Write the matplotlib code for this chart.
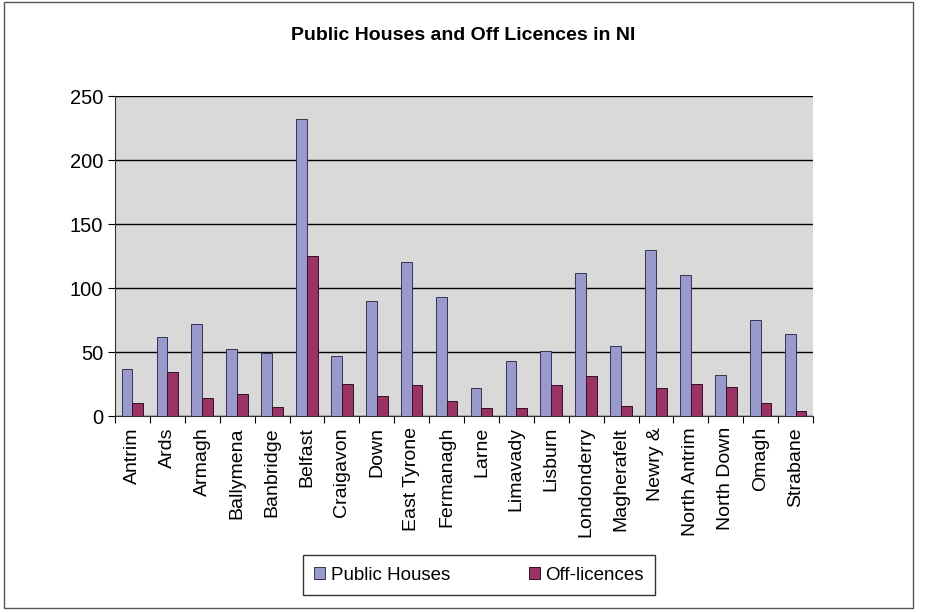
import numpy as np
import matplotlib.pyplot as plt
from matplotlib.patches import Rectangle

plt.rcParams['font.family'] = ['Liberation Sans', 'DejaVu Sans']

districts = ['Antrim', 'Ards', 'Armagh', 'Ballymena', 'Banbridge', 'Belfast',
             'Craigavon', 'Down', 'East Tyrone', 'Fermanagh', 'Larne', 'Limavady',
             'Lisburn', 'Londonderry', 'Magherafelt', 'Newry &', 'North Antrim',
             'North Down', 'Omagh', 'Strabane']
public_houses = [37, 62, 72, 52, 49, 232, 47, 90, 120, 93, 22, 43, 51, 112, 55, 130, 110, 32, 75, 64]
off_licences = [10, 34, 14, 17, 7, 125, 25, 16, 24, 12, 6, 6, 24, 31, 8, 22, 25, 23, 10, 4]

fig = plt.figure(figsize=(9.25, 6.12), dpi=100)
fig.patches.append(Rectangle((0.004, 0.006), 0.983, 0.99, transform=fig.transFigure,
                             fill=False, edgecolor='#555555', linewidth=1))

ax = fig.add_axes([115 / 925, 1 - 416 / 612, 698 / 925, 320 / 612])
ax.set_facecolor('#d9d9d9')

x = np.arange(len(districts))
w = 0.31
ax.bar(x - w / 2, public_houses, w, color='#9999cc', edgecolor='#333355', linewidth=0.7,
       label='Public Houses', zorder=3)
ax.bar(x + w / 2, off_licences, w, color='#993366', edgecolor='#331122', linewidth=0.7,
       label='Off-licences', zorder=3)

ax.set_xlim(-0.5, len(districts) - 0.5)
ax.set_ylim(0, 250)
ax.set_yticks(range(0, 251, 50))
ax.yaxis.grid(True, color='black', linewidth=1)
ax.set_axisbelow(True)
ax.set_xticks(np.arange(len(districts) + 1) - 0.5, minor=False)
ax.set_xticks(x, minor=True)
ax.set_xticklabels([''] * (len(districts) + 1))
ax.set_xticklabels(districts, minor=True, rotation=90, fontsize=14)
ax.tick_params(axis='x', which='minor', length=0, pad=8)
ax.tick_params(axis='x', which='major', length=5, direction='out')
ax.tick_params(axis='y', labelsize=14.5, length=5)
for s in ['top', 'right']:
    ax.spines[s].set_visible(False)
ax.spines['left'].set_color('#333333')
ax.spines['bottom'].set_color('#333333')

fig.text(463 / 925, 1 - 35 / 612, 'Public Houses and Off Licences in NI', ha='center', va='center',
         fontsize=14, fontweight='bold')

leg = fig.legend(loc='center', bbox_to_anchor=(479 / 925, 1 - 575 / 612), ncol=2,
                 frameon=True, fancybox=False, edgecolor='black', fontsize=13.5,
                 handlelength=0.6, handleheight=0.6, columnspacing=4.2, borderpad=0.6,
                 handletextpad=0.3, borderaxespad=0)
leg.get_frame().set_linewidth(1)

fig.savefig('out.png', dpi=100)
